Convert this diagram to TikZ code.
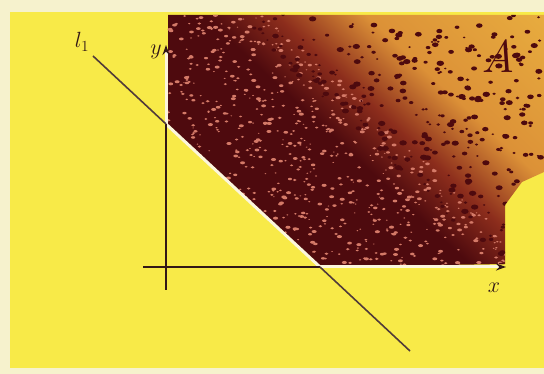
\documentclass[tikz,border=0pt]{standalone}
\usepackage{fix-cm}
\usetikzlibrary{arrows.meta}

\definecolor{paper}{RGB}{246,242,205}
\definecolor{bgyellow}{RGB}{248,234,72}
\definecolor{inkdark}{RGB}{50,24,22}
\definecolor{darkA}{RGB}{78,10,14}
\definecolor{midA}{RGB}{140,45,28}
\definecolor{orangeA}{RGB}{220,145,55}
\definecolor{lightA}{RGB}{240,192,68}
\definecolor{speckpink}{RGB}{212,122,104}
\definecolor{glowline}{RGB}{252,246,220}

\pgfdeclareverticalshading{areashade}{100bp}{color(0bp)=(darkA); color(48bp)=(darkA); color(56bp)=(midA); color(66bp)=(orangeA); color(100bp)=(lightA)}

\begin{document}
\begin{tikzpicture}[
  x=1pt, y=-1pt,
  axis/.style={draw=inkdark, line width=2.8pt},
  lline/.style={draw=inkdark!85, line width=1.6pt},
  glow/.style={draw=glowline, line width=3pt},
  tipk/.style={-{Stealth[length=10pt, width=7pt, inkdark]}},
  lbl/.style={text=inkdark, inner sep=0pt, font=\fontsize{22}{22}\selectfont}
]
\useasboundingbox (0,0) rectangle (544,374);
\fill[paper] (0,0) rectangle (544,374);
\fill[bgyellow] (10,12) rectangle (544,368);

% axes and the line l_1
\coordinate (P) at (166,124);
\coordinate (Q) at (320,267);
\coordinate (ybot) at (166,290);
\coordinate (xleft) at (143,267);
\coordinate (ytip) at (166,45);
\coordinate (xtip) at (506,267);
\coordinate (lstart) at (93,56);
\coordinate (lend) at (410,351);

% region A
\begin{scope}
  \clip (168,15) -- (544,15) -- (544,172) -- (522,182) -- (505,205) -- (505,264) -- (Q) -- (P) -- cycle;
  \shade[shading=areashade, shading angle=-43] (168,15) rectangle (544,267);
  \pgfmathsetseed{42}
  % pale flecks in the dark band
  \foreach \i in {1,...,1200}{
    \pgfmathsetmacro{\sx}{168+340*rnd}
    \pgfmathsetmacro{\sy}{15+252*rnd}
    \pgfmathsetmacro{\sd}{(\sx-166)*0.681-(\sy-124)*0.733}
    \pgfmathsetmacro{\sr}{0.8+1.8*rnd}
    \ifdim\sd pt<150pt
      \fill[speckpink] (\sx,\sy) ellipse[x radius=\sr, y radius=\sr*0.6];
    \fi
  }
  % dark blots further out
  \foreach \i in {1,...,700}{
    \pgfmathsetmacro{\sx}{168+376*rnd}
    \pgfmathsetmacro{\sy}{15+252*rnd}
    \pgfmathsetmacro{\sd}{(\sx-166)*0.681-(\sy-124)*0.733}
    \pgfmathsetmacro{\sr}{1.2+2.6*rnd}
    \ifdim\sd pt>125pt
      \fill[darkA] (\sx,\sy) ellipse[x radius=\sr, y radius=\sr*0.7];
    \fi
  }
\end{scope}

\draw[glow] (P) -- (Q);
\draw[glow, tipk] (P) -- (ytip);
\draw[glow, tipk] (Q) -- (xtip);
\draw[axis] (ybot) -- (P);
\draw[axis] (xleft) -- (Q);
\draw[lline] (lstart) -- (P);
\draw[lline] (Q) -- (lend);

\node[lbl] (ylab) at (156,52) {$y$};
\node[lbl] (xlab) at (494,288) {$x$};
\node[lbl] (llab) at (82,42) {$l_1$};
\node[text=darkA, inner sep=0pt, font=\fontsize{46}{46}\selectfont\itshape] (alab) at (498,56) {A};
\end{tikzpicture}
\end{document}
